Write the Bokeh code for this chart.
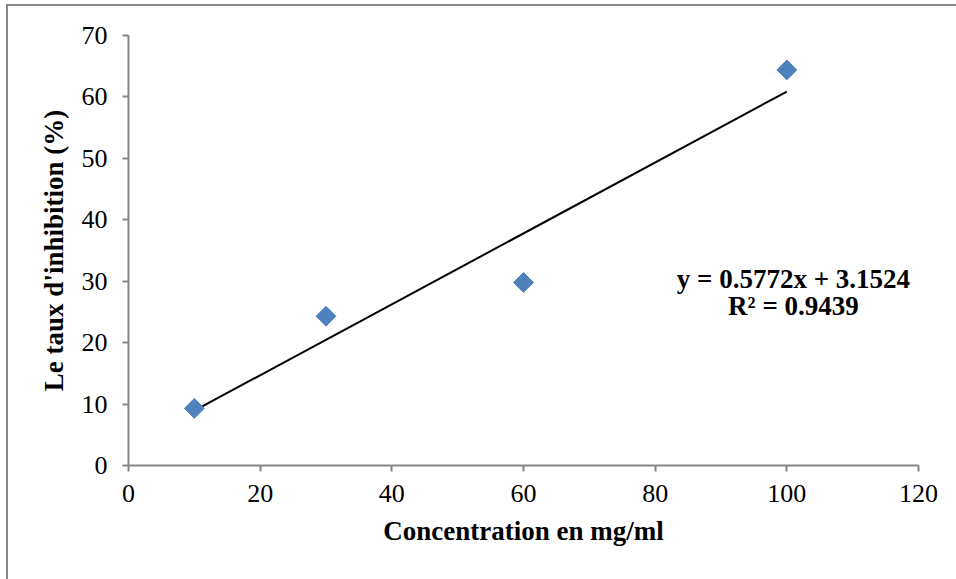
from bokeh.plotting import figure
from bokeh.models import Range1d, Label, FixedTicker
from bokeh.embed import file_html
from bokeh.resources import INLINE
import math

# Data
concentration = [10, 30, 60, 100]
inhibition = [9.3, 24.3, 29.8, 64.4]
slope = 0.5772
intercept = 3.1524
r2 = 0.9439
x_ticks = [0, 20, 40, 60, 80, 100, 120]
y_ticks = [0, 10, 20, 30, 40, 50, 60, 70]

W, H = 948, 573
p = figure(width=W, height=H, output_backend="svg", toolbar_location=None,
           x_range=Range1d(0, 120), y_range=Range1d(0, 70),
           min_border_left=120, min_border_right=38,
           min_border_top=29, min_border_bottom=114)
p.styles = {"outline": "2px solid #878787", "margin-left": "8px", "margin-top": "6px"}
p.outline_line_color = None
p.xgrid.visible = False
p.ygrid.visible = False
p.background_fill_color = "white"
p.border_fill_color = "white"

serif = "Liberation Serif"
for ax in (p.xaxis[0], p.yaxis[0]):
    ax.axis_line_color = "#868686"
    ax.axis_line_width = 2
    ax.major_tick_line_color = "#868686"
    ax.major_tick_line_width = 2
    ax.major_tick_out = 6
    ax.major_tick_in = 0
    ax.minor_tick_line_color = None
    ax.major_label_text_font = serif
    ax.major_label_text_font_size = "26px"
    ax.major_label_text_color = "black"
    ax.axis_label_text_font = serif
    ax.axis_label_text_font_style = "bold"
    ax.axis_label_text_font_size = "27px"
    ax.axis_label_text_color = "black"

p.xaxis.ticker = FixedTicker(ticks=x_ticks)
p.yaxis.ticker = FixedTicker(ticks=y_ticks)
p.xaxis.major_label_standoff = 13
p.yaxis.major_label_standoff = 15
p.xaxis.axis_label = "Concentration en mg/ml"
p.yaxis.axis_label = "Le taux d'inhibition (%)"
p.xaxis.axis_label_standoff = 11
p.yaxis.axis_label_standoff = 10

# Trendline
tx = [concentration[0], concentration[-1]]
ty = [slope * v + intercept for v in tx]
p.line(tx, ty, line_color="black", line_width=2)

# Points
p.scatter(concentration, inhibition, marker="square", size=14, angle=math.pi / 4,
          fill_color="#4F81BD", line_color="#4A7EBB", line_width=1)

# Equation text
p.add_layout(Label(x=101, y=30.4, text=f"y = {slope}x + {intercept}", text_align="center",
                   text_baseline="middle", text_font=serif, text_font_style="bold",
                   text_font_size="27px", text_color="black"))
p.add_layout(Label(x=101, y=25.9, text=f"R² = {r2}", text_align="center",
                   text_baseline="middle", text_font=serif, text_font_style="bold",
                   text_font_size="27px", text_color="black"))

open("out.html", "w").write(file_html(p, INLINE))
